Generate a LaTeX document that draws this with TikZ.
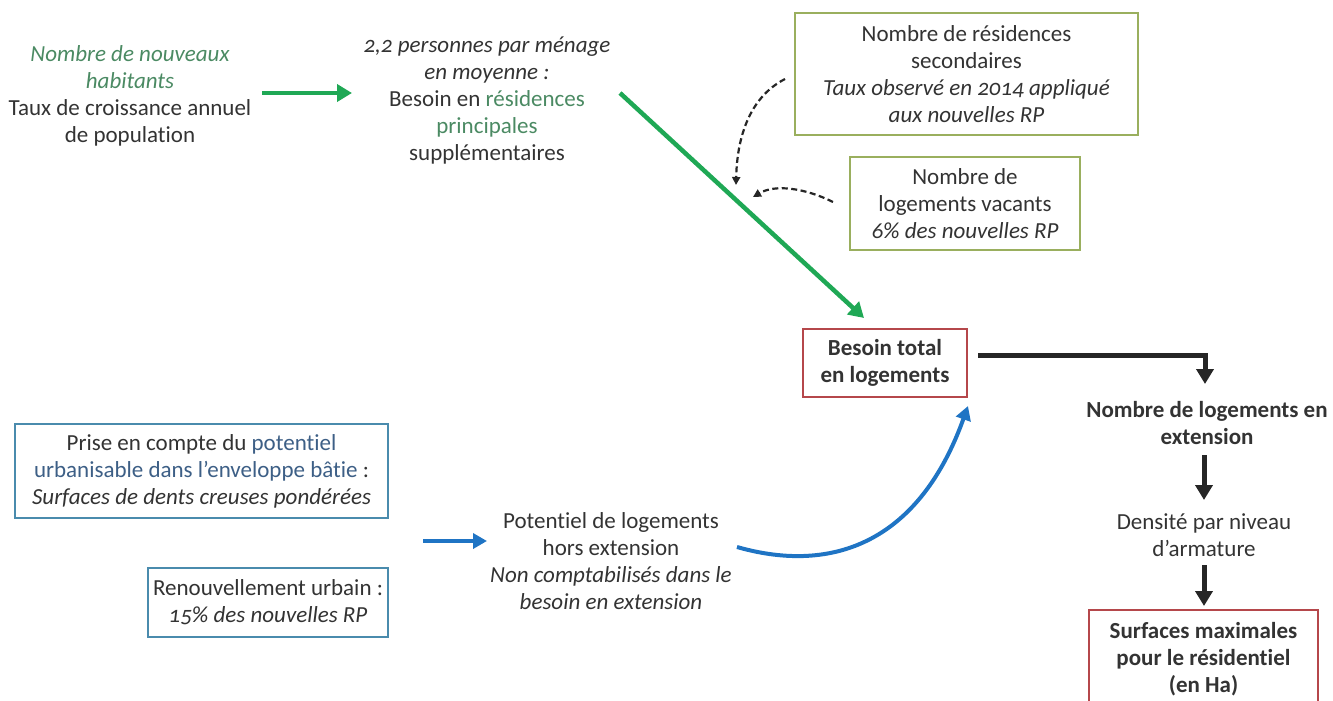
\documentclass[tikz,border=0pt]{standalone}
\usepackage{fontspec}
\setmainfont{Carlito}[Numbers=OldStyle, Ligatures=CommonOff]
\usetikzlibrary{arrows.meta}
\definecolor{txt}{HTML}{333333}
\definecolor{greentxt}{HTML}{4B8A63}
\definecolor{bluetxt}{HTML}{3D5F86}
\definecolor{greenarr}{HTML}{1FA855}
\definecolor{bluearr}{HTML}{1F74C4}
\definecolor{blackarr}{HTML}{262626}
\definecolor{olivebd}{HTML}{9AAF5E}
\definecolor{redbd}{HTML}{B5474B}
\definecolor{bluebd}{HTML}{4A8BAD}
\tikzset{
  lbl/.style={inner sep=0pt, align=center, text=txt, font=\fontsize{23}{27}\selectfont},
  boxed/.style={lbl, draw=#1, line width=1.6pt, fill=white},
  greenline/.style={draw=greenarr, line width=4.5pt, -{Triangle[length=15pt,width=17pt]}},
  blueline/.style={draw=bluearr, line width=4pt, -{Triangle[length=14pt,width=15pt]}},
  blackline/.style={draw=blackarr, line width=5pt, -{Triangle[length=15pt,width=17pt]}},
  dashline/.style={draw=blackarr, line width=2.2pt, dash pattern=on 6pt off 3.5pt, -{Triangle[length=8pt,width=8pt]}}
}
\begin{document}
\begin{tikzpicture}[x=1pt,y=-1pt]
\useasboundingbox (0,0) rectangle (1333,701);

% text nodes
\node[lbl] (A) at (130,96) {\textcolor{greentxt}{\itshape Nombre de nouveaux}\\ \textcolor{greentxt}{\itshape habitants}\\ Taux de croissance annuel\\ de population};
\node[lbl] (B) at (487,101) {\itshape 2,2 personnes par ménage\\ \itshape en moyenne :\\ Besoin en \textcolor{greentxt}{résidences}\\ \textcolor{greentxt}{principales}\\ supplémentaires};
\node[boxed=olivebd, minimum width=343pt, minimum height=122pt] (C) at (966.5,74) {Nombre de résidences\\ secondaires\\ \itshape Taux observé en 2014 appliqué\\ \itshape aux nouvelles RP};
\node[boxed=olivebd, minimum width=230pt, minimum height=93pt] (D) at (965,203.5) {Nombre de\\ logements vacants\\ \itshape 6\% des nouvelles RP};
\node[boxed=redbd, minimum width=164pt, minimum height=68pt, font=\fontsize{23}{27}\selectfont\bfseries] (E) at (885,363) {Besoin total\\ en logements};
\node[lbl, font=\fontsize{23}{27}\selectfont\bfseries] (F) at (1207,423.5) {Nombre de logements en\\ extension};
\node[lbl] (G) at (1204,535.5) {Densité par niveau\\ d’armature};
\node[boxed=redbd, minimum width=229pt, minimum height=98pt, font=\fontsize{23}{27}\selectfont\bfseries] (H) at (1203.5,659) {Surfaces maximales\\ pour le résidentiel\\ (en Ha)};
\node[boxed=bluebd, minimum width=373pt, minimum height=94pt] (I) at (201.5,471) {Prise en compte du \textcolor{bluetxt}{potentiel}\\ \textcolor{bluetxt}{urbanisable dans l’enveloppe bâtie} :\\ \itshape Surfaces de dents creuses pondérées};
\node[boxed=bluebd, minimum width=240pt, minimum height=69pt] (J) at (268,602.5) {Renouvellement urbain :\\ \itshape 15\% des nouvelles RP};
\node[lbl] (K) at (611,561) {Potentiel de logements\\ hors extension\\ \itshape Non comptabilisés dans le\\ \itshape besoin en extension};

% connector end points
\coordinate (a1) at (262,93);  \coordinate (b1) at (352,93);
\coordinate (b2) at (620,93);  \coordinate (e1) at (864,318);
\coordinate (c1) at (785,79);  \coordinate (m1) at (736,185);
\coordinate (d1) at (833,202); \coordinate (m2) at (753,197);
\coordinate (e2) at (978,355); \coordinate (f0) at (1205,355); \coordinate (f1) at (1205,384);
\coordinate (f2) at (1204,455); \coordinate (g1) at (1204,500);
\coordinate (g2) at (1204,565); \coordinate (h1) at (1204,606);
\coordinate (ij) at (423,541); \coordinate (k1) at (487,541);
\coordinate (k2) at (737,547); \coordinate (e3) at (968,406);

% connectors
\draw[greenline] (a1) -- (b1);
\draw[greenline] (b2) -- (e1);
\draw[dashline] (c1) .. controls (748,98) and (737,140) .. (m1);
\draw[dashline] (d1) .. controls (805,188) and (775,184) .. (m2);
\draw[blackline] (e2) -- (f0) -- (f1);
\draw[blackline] (f2) -- (g1);
\draw[blackline] (g2) -- (h1);
\draw[blueline] (ij) -- (k1);
\draw[blueline] (k2) .. controls (835,575) and (920,540) .. (e3);
\end{tikzpicture}
\end{document}
